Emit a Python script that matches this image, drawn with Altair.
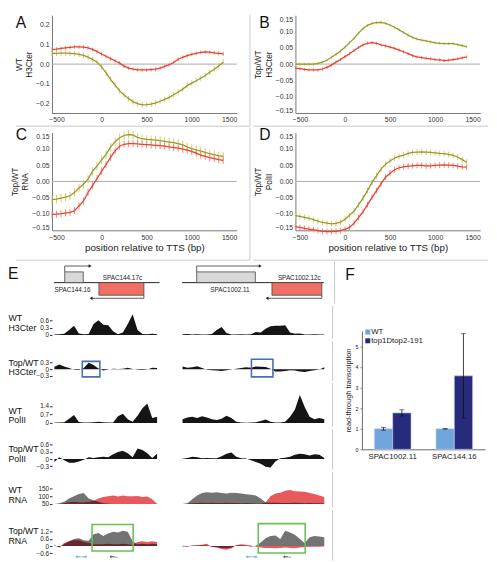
import altair as alt
import pandas as pd

FONT = "Liberation Sans"

# ---------------- Panels A-D : metagene profiles around the TTS ----------------
pos = list(range(-550, 1351, 50))          # 39 sampling positions (bp)
x_ticks = [-500, 0, 500, 1000, 1500]

a_red = [0.075, 0.077, 0.080, 0.083, 0.086, 0.088, 0.088, 0.087, 0.083, 0.075,
         0.064, 0.052, 0.040, 0.028, 0.017, 0.005, -0.010, -0.020, -0.026, -0.029,
         -0.030, -0.030, -0.028, -0.026, -0.020, -0.012, -0.003, 0.008, 0.025, 0.035,
         0.043, 0.050, 0.055, 0.060, 0.062, 0.061, 0.058, 0.055, 0.052]
a_olive = [0.055, 0.055, 0.056, 0.056, 0.055, 0.054, 0.050, 0.045, 0.036, 0.024,
           0.010, -0.014, -0.045, -0.078, -0.107, -0.137, -0.158, -0.176, -0.193, -0.202,
           -0.208, -0.207, -0.205, -0.198, -0.190, -0.180, -0.170, -0.157, -0.143, -0.128,
           -0.110, -0.097, -0.085, -0.072, -0.058, -0.042, -0.026, -0.010, 0.010]
b_red = [-0.012, -0.014, -0.016, -0.018, -0.018, -0.018, -0.015, -0.010, -0.003, 0.006,
         0.014, 0.023, 0.032, 0.042, 0.051, 0.059, 0.064, 0.066, 0.064, 0.059,
         0.056, 0.052, 0.048, 0.043, 0.038, 0.032, 0.026, 0.022, 0.020, 0.018,
         0.016, 0.014, 0.013, 0.011, 0.012, 0.014, 0.016, 0.019, 0.022]
b_olive = [0.000, 0.000, 0.000, 0.000, 0.000, 0.002, 0.006, 0.012, 0.021, 0.030,
           0.040, 0.052, 0.066, 0.079, 0.095, 0.109, 0.119, 0.125, 0.127, 0.128,
           0.125, 0.120, 0.113, 0.105, 0.097, 0.089, 0.082, 0.077, 0.074, 0.071,
           0.068, 0.065, 0.064, 0.063, 0.063, 0.063, 0.060, 0.057, 0.053]
c_red = [-0.101, -0.100, -0.099, -0.097, -0.095, -0.090, -0.075, -0.060, -0.034, -0.013,
         0.009, 0.031, 0.052, 0.074, 0.094, 0.108, 0.114, 0.116, 0.116, 0.115,
         0.114, 0.113, 0.112, 0.111, 0.110, 0.108, 0.106, 0.104, 0.102, 0.099,
         0.096, 0.092, 0.087, 0.081, 0.077, 0.073, 0.070, 0.067, 0.065]
c_olive = [-0.056, -0.054, -0.051, -0.048, -0.044, -0.034, -0.020, -0.008, 0.007, 0.031,
           0.048, 0.066, 0.083, 0.105, 0.122, 0.134, 0.141, 0.144, 0.142, 0.135,
           0.131, 0.129, 0.128, 0.127, 0.125, 0.123, 0.121, 0.119, 0.116, 0.112,
           0.106, 0.101, 0.097, 0.093, 0.089, 0.085, 0.082, 0.079, 0.077]
d_red = [-0.139, -0.141, -0.144, -0.146, -0.148, -0.151, -0.153, -0.154, -0.154, -0.153,
         -0.151, -0.147, -0.141, -0.128, -0.111, -0.093, -0.071, -0.049, -0.028, -0.007,
         0.013, 0.025, 0.036, 0.042, 0.045, 0.047, 0.048, 0.049, 0.049, 0.048,
         0.048, 0.049, 0.050, 0.051, 0.050, 0.049, 0.047, 0.045, 0.044]
d_olive = [-0.105, -0.107, -0.110, -0.113, -0.117, -0.122, -0.126, -0.128, -0.130, -0.129,
           -0.125, -0.116, -0.104, -0.091, -0.072, -0.051, -0.028, -0.003, 0.018, 0.038,
           0.053, 0.063, 0.072, 0.077, 0.081, 0.086, 0.089, 0.090, 0.091, 0.090,
           0.089, 0.088, 0.086, 0.085, 0.083, 0.080, 0.075, 0.067, 0.059]
# error half-widths (red, olive)
a_err = [0.010, 0.014]
b_err = [0.005, 0.005]
c_err = [0.011, 0.013]
d_err = [0.009, 0.009]

RED_LINE, RED_TICK = "#e6402f", "#f28b7c"
OLV_LINE, OLV_TICK = "#98982a", "#cfcf6a"
SEP = "#c8c8c8"
W, H = 189, 100
X_DOM = [-550, 1500]


def px_to_bp(px):
    return X_DOM[0] + px * (X_DOM[1] - X_DOM[0]) / W


def px_to_val(px, ydom):
    return ydom[1] - px * (ydom[1] - ydom[0]) / H


def profile(letter, ytitle, red, olive, errs, ydom, yvals, yfmt, flush, xtitle, letter_y, vseps, hseps):
    xs = alt.Scale(domain=X_DOM, nice=False, zero=False)
    ys = alt.Scale(domain=ydom, nice=False, zero=False)
    xaxis = alt.Axis(values=x_ticks, format="d", labelFontSize=7, ticks=False, labelPadding=3,
                     domainColor="#777", grid=False, labelColor="#333", title=xtitle,
                     titleFontSize=10, titleFontWeight="normal", titlePadding=3, titleColor="#222")
    yaxis = alt.Axis(values=yvals, format=yfmt, labelFontSize=7, ticks=False, labelPadding=3,
                     domainColor="#777", grid=False, labelColor="#333", labelFlush=flush,
                     labelOverlap=False, title=ytitle, titleFontSize=8.5,
                     titleFontWeight="normal", titlePadding=2, titleColor="#222")
    one = pd.DataFrame({"k": [0]})
    layers = []
    # panel separators (decoration), placed through the panel's own scales
    for x, y0, y1 in vseps:
        layers.append(alt.Chart(one).mark_rule(color=SEP, strokeWidth=1).encode(
            x=alt.XDatum(px_to_bp(x), scale=xs, axis=xaxis),
            y=alt.YDatum(px_to_val(y0, ydom), scale=ys, axis=yaxis),
            y2=alt.Y2Datum(px_to_val(y1, ydom))))
    for x0, x1, y in hseps:
        layers.append(alt.Chart(one).mark_rule(color=SEP, strokeWidth=1).encode(
            x=alt.XDatum(px_to_bp(x0), scale=xs, axis=xaxis),
            x2=alt.X2Datum(px_to_bp(x1)),
            y=alt.YDatum(px_to_val(y, ydom), scale=ys, axis=yaxis)))
    zero = pd.DataFrame({"pos": [-550], "val": [0.0]})
    layers.append(alt.Chart(zero).mark_rule(color="#aaaaaa", strokeWidth=1).encode(
        y=alt.Y("val:Q", scale=ys, axis=yaxis)))
    for vals, err, lc, tc in [(olive, errs[1], OLV_LINE, OLV_TICK), (red, errs[0], RED_LINE, RED_TICK)]:
        df = pd.DataFrame({"pos": pos, "val": vals})
        df["lo"] = df["val"] - err
        df["hi"] = df["val"] + err
        layers.append(alt.Chart(df).mark_rule(color=tc, strokeWidth=1).encode(
            x=alt.X("pos:Q", scale=xs, axis=xaxis),
            y=alt.Y("lo:Q", scale=ys, axis=yaxis), y2="hi:Q"))
        layers.append(alt.Chart(df).mark_line(color=lc, strokeWidth=1.3).encode(
            x=alt.X("pos:Q", scale=xs, axis=xaxis),
            y=alt.Y("val:Q", scale=ys, axis=yaxis)))
    layers.append(alt.Chart(pd.DataFrame({"t": [letter]})).mark_text(
        fontSize=16, font=FONT, align="left", baseline="top", color="#111").encode(
        x=alt.value(-37), y=alt.value(letter_y), text="t:N"))
    return alt.layer(*layers).properties(width=W, height=H)


YT6 = [-0.15, -0.10, -0.05, 0.0, 0.05, 0.10, 0.15]
A = profile("A", ["WT", "H3Cter"], a_red, a_olive, a_err, [-0.25, 0.25],
            [-0.2, -0.1, 0.0, 0.1, 0.2], ".1f", False, None, 0,
            [(202.5, 0, 113.5)], [(-37, 202.5, 113.5)])
B = profile("B", ["Top/WT", "H3Cter"], b_red, b_olive, b_err, [-0.15, 0.15],
            YT6, ".2f", True, None, 0, [], [(-43, 197, 113.5)])
C = profile("C", ["Top/WT", "RNA"], c_red, c_olive, c_err, [-0.15, 0.15],
            YT6, ".2f", True, "position relative to TTS (bp)", -5,
            [(202.5, -5, 130.5)], [(-37, 202.5, 130.5)])
D = profile("D", ["Top/WT", "PolII"], d_red, d_olive, d_err, [-0.15, 0.15],
            YT6, ".2f", True, "position relative to TTS (bp)", -5, [], [(-43, 197, 130.5)])

# ---------------- Panel E : browser tracks ----------------
L_LEN, R_LEN = 2200, 3000
L_W, R_W = 110, 150
R_SEP = 3120     # panel E/F separator, in right-locus bp units

gm_L = dict(names=["SPAC144.16", "SPAC144.17c"], start=[260, 960], end=[640, 1880],
            strand=[1, -1], tip=[780, 800], label_x=[420, 1440], line=[40, 2200])
gm_R = dict(names=["SPAC1002.11", "SPAC1002.12c"], start=[300, 1840], end=[1500, 2860],
            strand=[1, -1], tip=[1600, 1740], label_x=[980, 2400], line=[0, 2900])

# left locus (22 bins of 100 bp) and right locus (30 bins)
h3_wt_L = [0.02, 0.03, 0.05, 0.20, 0.38, 0.06, 0.03, 0.04, 0.45, 0.60, 0.42,
           0.40, 0.15, 0.03, 0.10, 0.45, 0.85, 0.20, 0.04, 0.03, 0.05, 0.03]
h3_top_L = [0.10, 0.20, 0.12, 0.05, -0.03, -0.04, 0.05, 0.28, 0.18, 0.03, -0.06,
            -0.02, 0.02, 0.01, 0.02, 0.06, 0.01, -0.03, -0.04, -0.02, 0.06, 0.05]
pol_wt_L = [0.03, 0.03, 0.05, 0.35, 0.65, 0.08, 0.03, 0.04, 0.06, 0.10, 0.06,
            0.04, 0.03, 0.55, 0.75, 0.30, 0.10, 0.60, 1.20, 1.60, 0.40, 0.50]
pol_top_L = [-0.12, 0.08, -0.05, -0.15, -0.15, -0.10, -0.03, 0.08, 0.05, 0.08, 0.10,
             0.08, 0.20, 0.30, 0.35, 0.25, 0.08, 0.45, 0.38, 0.25, 0.05, 0.22]
rna_wt_fw_L = [50, 55, 65, 85, 100, 115, 120, 85, 75, 65, 55,
               52, 51, 51, 51, 51, 51, 51, 51, 51, 51, 50]
rna_wt_rv_L = [50, 50, 55, 62, 65, 62, 60, 65, 70, 85, 95,
               100, 105, 98, 105, 100, 100, 102, 95, 98, 80, 52]
rna_top_fw_L = [0.10, -0.12, 0.15, 0.40, 0.60, 0.65, 0.50, 0.45, 1.00, 1.10, 0.85,
                1.05, 1.20, 1.15, 1.30, 1.20, 0.40, 0.15, 0.20, 0.15, 0.20, 0.15]
rna_top_rv_L = [0.05, -0.10, 0.25, 0.40, 0.50, 0.50, 0.35, 0.25, 0.15, 0.15, 0.15,
                0.20, 0.15, 0.15, 0.20, 0.15, 0.10, 0.35, 0.40, 0.35, 0.40, 0.35]

h3_wt_R = [0.03, 0.04, 0.02, 0.03, 0.02, 0.02, 0.04, 0.20, 0.32, 0.08,
           0.02, 0.02, 0.03, 0.02, 0.03, 0.12, 0.10, 0.25, 0.35, 0.38,
           0.38, 0.40, 0.10, 0.05, 0.06, 0.02, 0.02, 0.03, 0.02, 0.02]
h3_top_R = [0.12, 0.06, 0.08, 0.13, 0.05, -0.03, -0.05, -0.06, -0.08, -0.05,
            -0.02, 0.02, 0.05, 0.08, 0.06, 0.12, 0.10, 0.09, 0.02, -0.10,
            -0.10, -0.08, -0.05, -0.06, -0.10, -0.12, -0.08, -0.05, -0.02, 0.08]
pol_wt_R = [0.30, 0.45, 0.50, 0.40, 0.55, 0.45, 0.30, 0.25, 0.35, 0.60,
            0.40, 0.10, 0.03, 0.02, 0.03, 0.05, 0.15, 0.28, 0.10, 0.03,
            0.03, 0.10, 0.50, 1.10, 2.30, 1.30, 0.50, 0.30, 0.40, 0.30]
pol_top_R = [0.01, 0.05, 0.10, 0.08, 0.03, 0.05, 0.03, 0.04, 0.12, 0.22,
             0.28, 0.10, 0.04, 0.02, -0.05, -0.12, -0.20, -0.32, -0.35, -0.10,
             0.04, 0.06, 0.10, 0.18, 0.22, 0.20, 0.15, 0.20, 0.18, 0.05]
rna_wt_fw_R = [50, 55, 80, 105, 120, 125, 122, 125, 120, 118,
               122, 120, 118, 112, 110, 105, 85, 60, 58, 58,
               56, 57, 56, 58, 56, 55, 56, 55, 55, 53]
rna_wt_rv_R = [50, 52, 55, 57, 58, 57, 58, 56, 57, 58,
               56, 57, 55, 56, 55, 54, 52, 60, 100, 118,
               122, 135, 140, 132, 130, 128, 120, 115, 105, 95]
rna_top_fw_R = [0.03, -0.02, 0.05, 0.02, 0.08, 0.05, -0.05, -0.10, -0.15, -0.18,
                -0.12, 0.05, 0.05, 0.02, -0.05, 0.02, 0.30, 0.65, 0.85, 0.90,
                0.60, 1.30, 1.15, 0.95, 0.60, 0.25, 0.75, 0.85, 0.80, 0.75]
rna_top_rv_R = [-0.05, -0.05, 0.02, 0.10, 0.12, 0.20, -0.08, -0.12, -0.25, -0.30,
                -0.20, 0.10, 0.15, 0.12, 0.05, -0.05, -0.12, -0.15, -0.15, -0.18,
                -0.15, -0.12, -0.15, -0.18, -0.12, -0.08, -0.05, -0.05, -0.05, -0.04]

# highlighted windows (bp start, bp end, low, high)
blue_L = [620, 980, -0.34, 0.34]
blue_R = [1460, 1900, -0.34, 0.43]
green_L = [820, 1660, -0.41, 1.81]
green_R = [1600, 2560, -0.575, 1.89]
# primer arrows under the Top/WT RNA track (bp centre)
primers_L = [600, 1260]
primers_R = [1460, 2190]

BLACK = "#151515"
RNA_RED = "#e4474b"


def sep_layer(xs):
    return alt.Chart(pd.DataFrame({"k": [0]})).mark_rule(color=SEP, strokeWidth=1).encode(
        x=alt.XDatum(R_SEP, scale=xs, axis=None))


def gene_model(g, length, width, letter, sep):
    xs = alt.Scale(domain=[0, length], nice=False, zero=False)
    ys = alt.Scale(domain=[-2, 2], nice=False, zero=False)
    X = lambda f: alt.X(f, type="quantitative", scale=xs, axis=None)
    Y = lambda f: alt.Y(f, type="quantitative", scale=ys, axis=None)
    edge = [1.02 if s > 0 else -1.2 for s in g["strand"]]
    lvl = [1.58 if s > 0 else -1.49 for s in g["strand"]]
    origin = [st if s > 0 else en for st, en, s in zip(g["start"], g["end"], g["strand"])]
    boxes = pd.DataFrame({"x": g["start"], "x2": g["end"], "y": [0, 0], "y2": edge,
                          "fill": ["#d8d8d8" if s > 0 else "#ef6f66" for s in g["strand"]]})
    conn = pd.DataFrame({"x": origin, "y": edge, "y2": lvl})
    arr = pd.DataFrame({"x": origin, "x2": g["tip"], "y": lvl})
    heads = pd.DataFrame({"x": g["tip"], "y": lvl,
                          "shape": ["triangle-right" if s > 0 else "triangle-left" for s in g["strand"]]})
    labs = pd.DataFrame({"x": g["label_x"], "y": [-0.75 if s > 0 else 0.45 for s in g["strand"]],
                         "t": g["names"]})
    line = pd.DataFrame({"x": [g["line"][0]], "x2": [g["line"][1]], "y": [0]})
    layers = [
        alt.Chart(line).mark_rule(color="#222", strokeWidth=1).encode(x=X("x"), x2="x2", y=Y("y")),
        alt.Chart(boxes).mark_rect(stroke="#444", strokeWidth=0.8).encode(
            x=X("x"), x2="x2", y=Y("y"), y2="y2", color=alt.Color("fill:N", scale=None)),
        alt.Chart(conn).mark_rule(color="#333", strokeWidth=0.8).encode(x=X("x"), y=Y("y"), y2="y2"),
        alt.Chart(arr).mark_rule(color="#333", strokeWidth=0.8).encode(x=X("x"), x2="x2", y=Y("y")),
        alt.Chart(heads).mark_point(filled=True, size=12, color="#222", opacity=1).encode(
            x=X("x"), y=Y("y"), shape=alt.Shape("shape:N", scale=None)),
        alt.Chart(labs).mark_text(fontSize=6.5, font=FONT, color="#222").encode(
            x=X("x"), y=Y("y"), text="t:N"),
    ]
    if sep:
        layers.append(sep_layer(xs))
    if letter:
        layers.append(alt.Chart(pd.DataFrame({"t": [letter]})).mark_text(
            fontSize=16, font=FONT, align="left", baseline="top", color="#111").encode(
            x=alt.value(-45), y=alt.value(5), text="t:N"))
    return alt.layer(*layers).properties(width=width, height=43)


def track(series, length, width, height, ydom, base, axis, box=None, box_color=None,
          primers=None, sep=False):
    xs = alt.Scale(domain=[0, length], nice=False, zero=False)
    ys = alt.Scale(domain=ydom, nice=False, zero=False)
    layers = []
    for vals, color, op in series:
        df = pd.DataFrame({"x": [50 + 100 * i for i in range(len(vals))], "v": vals})
        layers.append(alt.Chart(df).mark_area(color=color, opacity=op, clip=True).encode(
            x=alt.X("x:Q", scale=xs, axis=None),
            y=alt.Y("v:Q", scale=ys, axis=axis), y2=alt.datum(base)))
    if box:
        bdf = pd.DataFrame({"x": [box[0]], "x2": [box[1]], "y": [box[2]], "y2": [box[3]]})
        layers.append(alt.Chart(bdf).mark_rect(fillOpacity=0, stroke=box_color, strokeWidth=1.6).encode(
            x=alt.X("x:Q", scale=xs, axis=None), x2="x2:Q",
            y=alt.Y("y:Q", scale=ys, axis=axis), y2="y2:Q"))
    if primers:
        pdf = pd.DataFrame({"x": primers, "y": [ydom[0] * 0.72] * 2, "t": ["\u2190\u2192", "\u2190-"],
                            "c": ["#4f8fd0", "#222"]})
        layers.append(alt.Chart(pdf).mark_text(fontSize=7, font="DejaVu Sans").encode(
            x=alt.X("x:Q", scale=xs, axis=None), y=alt.Y("y:Q", scale=ys, axis=axis),
            text="t:N", color=alt.Color("c:N", scale=None)))
    if sep:
        layers.append(sep_layer(xs))
    return alt.layer(*layers).properties(width=width, height=height)


def taxis(values, fmt, title, ty):
    return alt.Axis(values=values, format=fmt, labelExpr="datum.value == 0 ? '0' : datum.label",
                    labelFontSize=6.5, tickSize=2.5, tickColor="#222",
                    domain=False, grid=False, labelPadding=1, labelColor="#222", labelOverlap=False,
                    title=title, titleAngle=0, titleAlign="left", titleBaseline="top", titleX=-45,
                    titleY=ty, titleFontSize=9, titleFontWeight="normal", titleColor="#111",
                    titleLineHeight=10)


E_GAP = 21
rows = []
rows.append(alt.hconcat(gene_model(gm_L, L_LEN, L_W, "E", False),
                        gene_model(gm_R, R_LEN, R_W, None, True), spacing=E_GAP))

specs = [
    # (L series, R series, height, domain, base, tick values, fmt, title, titleY, box, primers)
    ([(h3_wt_L, BLACK, 1)], [(h3_wt_R, BLACK, 1)], 34, [-0.16, 1.2], 0,
     [0, 0.3, 0.6], ".1f", ["WT", "H3Cter"], 8, None, None),
    ([(h3_top_L, BLACK, 1)], [(h3_top_R, BLACK, 1)], 41, [-0.514, 1.243], 0,
     [-0.3, 0, 0.3], ".1f", ["Top/WT", "H3Cter"], 18, ("blue", blue_L, blue_R), None),
    ([(pol_wt_L, BLACK, 1)], [(pol_wt_R, BLACK, 1)], 45, [-0.322, 3.3], 0,
     [0, 0.7, 1.4], ".1f", ["WT", "PolII"], 24, None, None),
    ([(pol_top_L, BLACK, 1)], [(pol_top_R, BLACK, 1)], 42, [-0.452, 1.274], 0,
     [-0.3, 0, 0.3, 0.6], ".1f", ["Top/WT", "PolII"], 16, None, None),
    ([(rna_wt_rv_L, RNA_RED, 0.9), (rna_wt_fw_L, "#000000", 0.55)],
     [(rna_wt_rv_R, RNA_RED, 0.9), (rna_wt_fw_R, "#000000", 0.55)], 37, [25, 256], 50,
     [50, 100, 150], "d", ["WT", "RNA"], 14, None, None),
    ([(rna_top_rv_L, RNA_RED, 0.9), (rna_top_fw_L, "#000000", 0.55)],
     [(rna_top_rv_R, RNA_RED, 0.9), (rna_top_fw_R, "#000000", 0.55)], 52, [-1.233, 3.04], 0,
     [-0.6, 0, 0.6, 1.2], ".1f", ["Top/WT", "RNA"], 17, ("green", green_L, green_R), True),
]
for sl, sr, h, dom, base, vals, fmt, title, ty, box, prim in specs:
    bc = {"blue": "#4a6db5", "green": "#6cbf55"}.get(box[0]) if box else None
    left = track(sl, L_LEN, L_W, h, dom, base, taxis(vals, fmt, title, ty),
                 box=box[1] if box else None, box_color=bc, primers=primers_L if prim else None)
    right = track(sr, R_LEN, R_W, h, dom, base, None,
                  box=box[2] if box else None, box_color=bc, primers=primers_R if prim else None,
                  sep=True)
    rows.append(alt.hconcat(left, right, spacing=E_GAP))

E = alt.vconcat(*rows, spacing=0)

# ---------------- Panel F : read-through transcription ----------------
f_genes = ["SPAC1002.11", "SPAC144.16"]
f_strains = ["WT", "top1Dtop2-191"]
f_colors = ["#6fa5da", "#262b7b"]
f_wt = [1.0, 1.0]
f_wt_err = [0.07, 0.02]
f_top = [1.77, 3.57]
f_top_err = [0.15, 2.05]

fdf = pd.DataFrame({"gene": f_genes * 2,
                    "strain": [f_strains[0]] * 2 + [f_strains[1]] * 2,
                    "val": f_wt + f_top, "err": f_wt_err + f_top_err})
fdf["lo"] = fdf["val"] - fdf["err"]
fdf["hi"] = fdf["val"] + fdf["err"]

fx = alt.X("gene:N", sort=f_genes, scale=alt.Scale(paddingInner=0, paddingOuter=0),
           axis=alt.Axis(title=None, labelAngle=0, labelFontSize=8, ticks=False, domainColor="#666",
                         labelColor="#222", labelPadding=3))
fxo = alt.XOffset("strain:N", sort=f_strains, scale=alt.Scale(paddingInner=0, paddingOuter=0.68))
fys = alt.Scale(domain=[0, 5.75], nice=False)
fyaxis = alt.Axis(values=[0, 1, 2, 3, 4, 5], format="d", labelFontSize=5.5, tickSize=2,
                  domainColor="#666", grid=False, labelColor="#222", labelPadding=2,
                  title="read-through transcription", titleFontSize=7.5, titleFontWeight="normal",
                  titlePadding=3, titleColor="#222")
bars = alt.Chart(fdf).mark_bar(stroke="#c9d3ec", strokeWidth=0.6).encode(
    x=fx, xOffset=fxo, y=alt.Y("val:Q", scale=fys, axis=fyaxis),
    color=alt.Color("strain:N", sort=f_strains,
                    scale=alt.Scale(domain=f_strains, range=f_colors), legend=None))
ebar = alt.Chart(fdf).mark_rule(color="#111", strokeWidth=0.8).encode(
    x=fx, xOffset=fxo, y=alt.Y("lo:Q", scale=fys, axis=fyaxis), y2="hi:Q")
cap_lo = alt.Chart(fdf).mark_tick(color="#111", size=5, thickness=0.8).encode(
    x=fx, xOffset=fxo, y=alt.Y("lo:Q", scale=fys, axis=fyaxis))
cap_hi = alt.Chart(fdf).mark_tick(color="#111", size=5, thickness=0.8).encode(
    x=fx, xOffset=fxo, y=alt.Y("hi:Q", scale=fys, axis=fyaxis))
f_layers = [bars, ebar, cap_lo, cap_hi]
for i, (s, c) in enumerate(zip(f_strains, f_colors)):
    f_layers.append(alt.Chart(pd.DataFrame({"t": [s]})).mark_square(size=26, color=c, opacity=1).encode(
        x=alt.value(6), y=alt.value(1 + 9 * i)))
    f_layers.append(alt.Chart(pd.DataFrame({"t": [s]})).mark_text(
        fontSize=8, font=FONT, align="left", baseline="middle", color="#222").encode(
        x=alt.value(9.5), y=alt.value(1 + 9 * i), text="t:N"))
F_plot = alt.layer(*f_layers).properties(width=126, height=121)
F_head = alt.Chart(pd.DataFrame({"t": ["F"]})).mark_text(
    fontSize=16, font=FONT, align="left", baseline="top", color="#111").encode(
    x=alt.value(-17), y=alt.value(6), text="t:N").properties(width=126, height=68)
F = alt.vconcat(F_head, F_plot, spacing=0)

row1 = alt.hconcat(A, B, spacing=2)
row2 = alt.hconcat(C, D, spacing=2)
row3 = alt.hconcat(E, F, spacing=8)

chart = alt.vconcat(row1, row2, row3, spacing=0).properties(
    padding=0, background="white"
).configure(font=FONT).configure_view(strokeWidth=0)

chart.save("out.html", embed_options={"renderer": "svg", "actions": False})
